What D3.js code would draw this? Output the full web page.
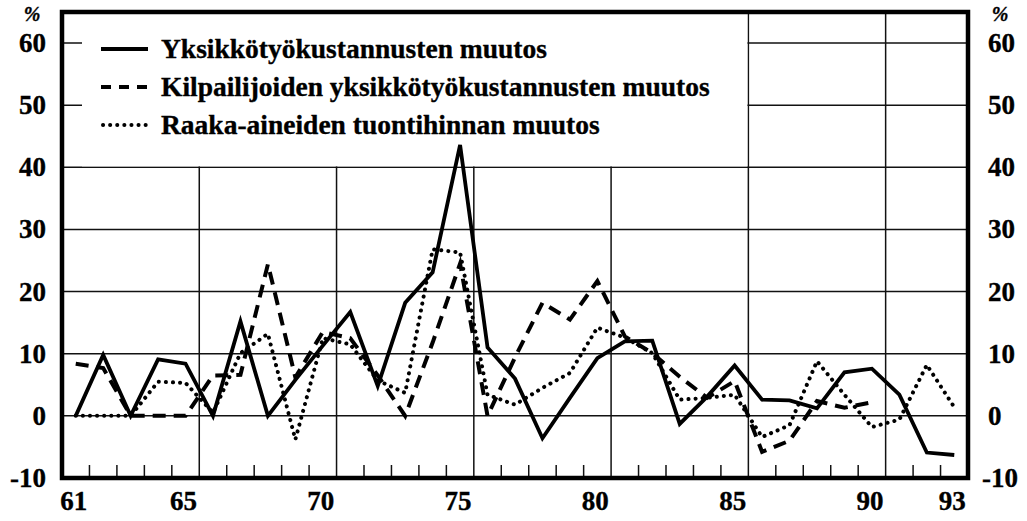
<!DOCTYPE html>
<html>
<head>
<meta charset="utf-8">
<script src="https://cdn.jsdelivr.net/npm/d3@7"></script>
<style>
  html, body { margin: 0; padding: 0; background: #fff; }
  svg text { font-family: "Liberation Serif", "DejaVu Serif", serif; font-weight: bold; fill: #000; stroke: #000; stroke-width: 0.35; }
  .grid { stroke: #111; stroke-width: 1.5; }
  .frame { fill: none; stroke: #000; stroke-width: 4.5; }
  .series { fill: none; stroke: #000; stroke-linejoin: miter; }
</style>
</head>
<body>
<div class="container"></div>
<script>
const WIDTH = 1027;
const HEIGHT = 521;
const LEFT = 62, RIGHT = 968, TOP = 12, BOTTOM = 478;

// vuodet 1961-1993
var years = [61, 62, 63, 64, 65, 66, 67, 68, 69, 70, 71, 72, 73, 74, 75, 76, 77,
    78, 79, 80, 81, 82, 83, 84, 85, 86, 87, 88, 89, 90, 91, 92, 93];

// Yksikkötyökustannusten muutos, %
var unitCost = [0, 9.8, 0, 9.1, 8.4, 0, 15.2, 0, 5.8, 11.3, 16.7, 4.8, 18.2, 23.1, 43.6, 11,
    6, -3.6, 2.9, 9.3, 12, 12.1, -1.3, 3.1, 8.1, 2.6, 2.5, 1.2, 7, 7.6, 3.4, -5.9, -6.3];

// Kilpailijoiden yksikkötyökustannusten muutos, % (61-90)
var rivalCost = [8.4, 7.7, 0, 0, 0, 6.5, 6.6, 24.4, 6.2, 13.5, 12.5, 6.5, 0, 11.8, 24.5, 0,
    9.4, 18.2, 15.5, 21.7, 12.8, 10.1, 6.3, 2.9, 5.6, -5.8, -4, 2.4, 1.3, 2.2];

// Raaka-aineiden tuontihinnan muutos, %
var rawPrice = [0, 0, 0, 5.5, 5.3, 0.5, 10.1, 13.2, -3.8, 12.5, 11.5, 5.7, 3.7, 26.8, 26.3, 3.4,
    1.8, 4.5, 6.9, 14.2, 12.6, 10.1, 2.6, 2.9, 3.4, -3.4, -1.5, 8.8, 3.4, -1.8, -0.6, 8.2, 1.4];

var xTickLabels = [61, 65, 70, 75, 80, 85, 90, 93];
var xGridYears = [65.5, 70.5, 75.5, 80.5, 85.5, 90.5];
var yTickValues = [-10, 0, 10, 20, 30, 40, 50, 60];
var legendLabels = ["Yksikkötyökustannusten muutos",
    "Kilpailijoiden yksikkötyökustannusten muutos",
    "Raaka-aineiden tuontihinnan muutos"];

var svg = d3.select('.container').append('svg')
    .attr('width', WIDTH)
    .attr('height', HEIGHT);

let xScale = d3.scaleLinear().domain([60.5, 93.5]).range([LEFT, RIGHT]);
let yScale = d3.scaleLinear().domain([-10, 65]).range([BOTTOM, TOP]);

// vaakasuorat apuviivat
svg.append('g').selectAll('line').data(yTickValues.filter((d) => d > -10)).enter()
    .append('line')
    .classed('grid', true)
    .attr('x1', LEFT).attr('x2', RIGHT)
    .attr('y1', (d) => yScale(d)).attr('y2', (d) => yScale(d));

// pystysuorat apuviivat
svg.append('g').selectAll('line').data(xGridYears).enter()
    .append('line')
    .classed('grid', true)
    .attr('x1', (d) => xScale(d)).attr('x2', (d) => xScale(d))
    .attr('y1', TOP).attr('y2', BOTTOM);

// pienet jakoviivat alareunassa
var minorTicks = years.slice(0, -1).map((d) => d + 0.5).filter((d) => xGridYears.indexOf(d) < 0);
svg.append('g').selectAll('line').data(minorTicks).enter()
    .append('line')
    .classed('grid', true)
    .attr('x1', (d) => xScale(d)).attr('x2', (d) => xScale(d))
    .attr('y1', BOTTOM - 13).attr('y2', BOTTOM);

// selitteen valkoinen tausta
svg.append('rect')
    .attr('x', LEFT + 20).attr('y', TOP + 2)
    .attr('width', xScale(85.5) - LEFT - 21)
    .attr('height', yScale(40) - TOP - 3)
    .attr('fill', '#fff');

var line = d3.line()
    .x((d, i) => xScale(years[i]))
    .y((d) => yScale(d));

var styles = [
    { data: unitCost, width: 3.8, dash: null, cap: 'butt' },
    { data: rivalCost, width: 4, dash: '13,8', cap: 'butt' },
    { data: rawPrice, width: 4, dash: '0.1,7', cap: 'round' }
];

styles.forEach(function(s) {
    svg.append('path')
        .classed('series', true)
        .attr('d', line(s.data))
        .attr('stroke-width', s.width)
        .attr('stroke-dasharray', s.dash)
        .attr('stroke-linecap', s.cap);
});

// kehys
svg.append('rect')
    .classed('frame', true)
    .attr('x', LEFT).attr('y', TOP)
    .attr('width', RIGHT - LEFT).attr('height', BOTTOM - TOP);

// akselien tekstit
var yLeft = svg.append('g').attr('font-size', 27).attr('text-anchor', 'end');
yLeft.selectAll('text').data(yTickValues).enter()
    .append('text')
    .attr('x', 46)
    .attr('y', (d) => yScale(d) + 9)
    .text((d) => d);
yLeft.append('text').attr('x', 32).attr('y', 21).attr('font-size', 20)
    .attr('text-anchor', 'middle').attr('font-style', 'italic').text('%');

var yRight = svg.append('g').attr('font-size', 27).attr('text-anchor', 'start');
yRight.selectAll('text').data(yTickValues).enter()
    .append('text')
    .attr('x', (d) => d < 0 ? 982 : 988)
    .attr('y', (d) => yScale(d) + 9)
    .text((d) => d);
yRight.append('text').attr('x', 1000).attr('y', 21).attr('font-size', 20)
    .attr('text-anchor', 'middle').attr('font-style', 'italic').text('%');

svg.append('g').attr('font-size', 27).attr('text-anchor', 'middle')
    .selectAll('text').data(xTickLabels).enter()
    .append('text')
    .attr('x', (d) => xScale(d) - 2)
    .attr('y', 510)
    .text((d) => d);

// selite
var legend = svg.append('g');
styles.forEach(function(s, i) {
    var cy = 49 + i * 38;
    legend.append('line')
        .attr('x1', i == 2 ? 103 : 101).attr('x2', 148)
        .attr('y1', cy).attr('y2', cy)
        .attr('stroke', '#000')
        .attr('stroke-width', s.width)
        .attr('stroke-dasharray', i == 1 ? '10,8' : s.dash)
        .attr('stroke-linecap', s.cap);
    legend.append('text')
        .attr('x', 161)
        .attr('y', cy + 9)
        .attr('font-size', 27.5)
        .text(legendLabels[i]);
});
</script>
</body>
</html>
